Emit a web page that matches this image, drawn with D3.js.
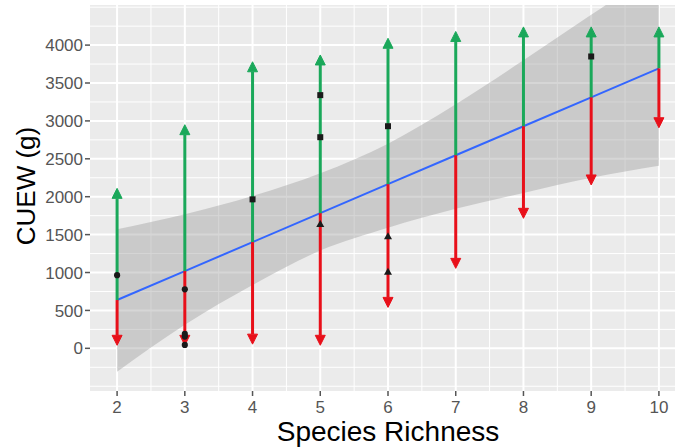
<!DOCTYPE html>
<html>
<head>
<meta charset="utf-8">
<script src="https://cdn.jsdelivr.net/npm/d3@7"></script>
<style>
  body { margin: 0; background: #fff; }
  svg { display: block; font-family: "Liberation Sans", Arial, sans-serif; }
</style>
</head>
<body>
<div id="chart"></div>
<script>
// Species richness vs CUEW (g) - fitted line, CI band, min/max arrows and observations

const richness = [2, 3, 4, 5, 6, 7, 8, 9, 10];
const fitted   = [637, 1019, 1401, 1783, 2165, 2547, 2929, 3311, 3693];
const ciUpper  = [1570, 1770, 2010, 2310, 2700, 3220, 3800, 4400, 4990];
const ciLower  = [-310, 310, 835, 1290, 1590, 1840, 2050, 2250, 2410];
const maxCuew  = [2110, 2950, 3780, 3870, 4090, 4180, 4240, 4240, 4240];
const minCuew  = [40, 40, 55, 40, 540, 1055, 1715, 2155, 2910];

// observed points
const obsRichness = [2, 3, 3, 3, 3, 4, 5, 5, 5, 6, 6, 6, 9];
const obsCuew     = [965, 778, 190, 155, 45, 1965, 3340, 2785, 1630, 2930, 1470, 1000, 3850];
const obsShape    = ['circle', 'circle', 'circle', 'circle', 'circle', 'square', 'square', 'square',
                     'triangle', 'square', 'triangle', 'triangle', 'square'];

const xTicks = [2, 3, 4, 5, 6, 7, 8, 9, 10];
const xMinor = [2.5, 3.5, 4.5, 5.5, 6.5, 7.5, 8.5, 9.5];
const yTicks = [0, 500, 1000, 1500, 2000, 2500, 3000, 3500, 4000];
const yMinor = [-500, -250, 250, 750, 1250, 1750, 2250, 2750, 3250, 3750, 4250, 4500];

const width = 675, height = 448;
const panel = { left: 90, right: 686, top: 5, bottom: 391 };

const svg = d3.select('#chart').append('svg')
    .attr('width', width)
    .attr('height', height);

const x = d3.scaleLinear().domain([1.6, 10.4]).range([panel.left, panel.right]);
const y = d3.scaleLinear().domain([-563, 4529]).range([panel.bottom, panel.top]);

svg.append('clipPath').attr('id', 'clip')
  .append('rect')
    .attr('x', panel.left).attr('y', panel.top)
    .attr('width', panel.right - panel.left)
    .attr('height', panel.bottom - panel.top);

// panel background
svg.append('rect')
    .attr('x', panel.left).attr('y', panel.top)
    .attr('width', panel.right - panel.left)
    .attr('height', panel.bottom - panel.top)
    .attr('fill', '#ebebeb');

const g = svg.append('g').attr('clip-path', 'url(#clip)');

// grid lines
g.selectAll('.ymin').data(yMinor).join('line')
    .attr('x1', panel.left).attr('x2', panel.right)
    .attr('y1', d => y(d)).attr('y2', d => y(d))
    .attr('stroke', '#fff').attr('stroke-width', 1);
g.selectAll('.xmin').data(xMinor).join('line')
    .attr('y1', panel.top).attr('y2', panel.bottom)
    .attr('x1', d => x(d)).attr('x2', d => x(d))
    .attr('stroke', '#fff').attr('stroke-width', 1);
g.selectAll('.ymaj').data(yTicks).join('line')
    .attr('x1', panel.left).attr('x2', panel.right)
    .attr('y1', d => y(d)).attr('y2', d => y(d))
    .attr('stroke', '#fff').attr('stroke-width', 2);
g.selectAll('.xmaj').data(xTicks).join('line')
    .attr('y1', panel.top).attr('y2', panel.bottom)
    .attr('x1', d => x(d)).attr('x2', d => x(d))
    .attr('stroke', '#fff').attr('stroke-width', 2);

// confidence band
const band = d3.area()
    .x((d, i) => x(richness[i]))
    .y0((d, i) => y(ciLower[i]))
    .y1((d, i) => y(ciUpper[i]))
    .curve(d3.curveMonotoneX);
g.append('path')
    .attr('d', band(richness))
    .attr('fill', '#999')
    .attr('fill-opacity', 0.4);

// fitted line
const fitLine = d3.line()
    .x((d, i) => x(richness[i]))
    .y((d, i) => y(fitted[i]));
g.append('path')
    .attr('d', fitLine(richness))
    .attr('fill', 'none')
    .attr('stroke', '#3366ff')
    .attr('stroke-width', 2);

// arrows from fitted value to max (green) and min (red)
const headLen = 10, headHalf = 5;
function drawArrow(x0, yStart, yEnd, color) {
    const dir = yEnd < yStart ? 1 : -1; // 1 = pointing up
    const yBase = yEnd + dir * headLen;
    g.append('line')
        .attr('x1', x0).attr('x2', x0)
        .attr('y1', yStart).attr('y2', yBase)
        .attr('stroke', color).attr('stroke-width', 3);
    g.append('path')
        .attr('d', `M${x0},${yEnd}L${x0 - headHalf},${yBase}L${x0 + headHalf},${yBase}Z`)
        .attr('fill', color).attr('stroke', color).attr('stroke-width', 1);
}
richness.forEach((r, i) => {
    drawArrow(x(r), y(fitted[i]), y(maxCuew[i]), '#1aa85a');
    drawArrow(x(r), y(fitted[i]), y(minCuew[i]), '#e8101a');
});

// observed points
const symbolType = { circle: d3.symbolCircle, square: d3.symbolSquare, triangle: d3.symbolTriangle };
const symbolSize = { circle: 30, square: 36, triangle: 28 };
obsRichness.forEach((r, i) => {
    const s = obsShape[i];
    g.append('path')
        .attr('transform', `translate(${x(r)},${y(obsCuew[i])})`)
        .attr('d', d3.symbol().type(symbolType[s]).size(symbolSize[s])())
        .attr('fill', '#1a1a1a');
});

// axes
const tickColor = '#555';
const yAxis = svg.append('g');
yAxis.selectAll('line').data(yTicks).join('line')
    .attr('x1', panel.left - 5).attr('x2', panel.left)
    .attr('y1', d => y(d)).attr('y2', d => y(d))
    .attr('stroke', tickColor).attr('stroke-width', 1.5);
yAxis.selectAll('text').data(yTicks).join('text')
    .attr('x', panel.left - 7)
    .attr('y', d => y(d))
    .attr('dy', '0.36em')
    .attr('text-anchor', 'end')
    .attr('font-size', 17)
    .attr('fill', tickColor)
    .text(d => d);

const xAxis = svg.append('g');
xAxis.selectAll('line').data(xTicks).join('line')
    .attr('y1', panel.bottom).attr('y2', panel.bottom + 5)
    .attr('x1', d => x(d)).attr('x2', d => x(d))
    .attr('stroke', tickColor).attr('stroke-width', 1.5);
xAxis.selectAll('text').data(xTicks).join('text')
    .attr('x', d => x(d))
    .attr('y', panel.bottom + 22)
    .attr('text-anchor', 'middle')
    .attr('font-size', 17)
    .attr('fill', tickColor)
    .text(d => d);

// axis titles
svg.append('text')
    .attr('transform', 'translate(35,186) rotate(-90)')
    .attr('text-anchor', 'middle')
    .attr('font-size', 26)
    .attr('fill', '#000')
    .text('CUEW (g)');

svg.append('text')
    .attr('x', 388)
    .attr('y', 441)
    .attr('text-anchor', 'middle')
    .attr('font-size', 28)
    .attr('fill', '#000')
    .text('Species Richness');
</script>
</body>
</html>
